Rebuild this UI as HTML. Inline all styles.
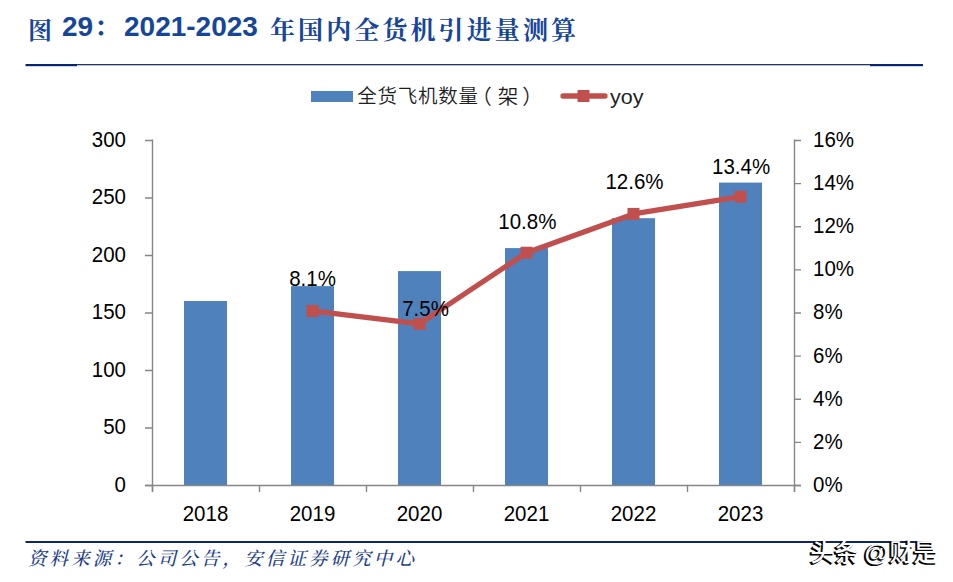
<!DOCTYPE html>
<html><head><meta charset="utf-8">
<style>
html,body{margin:0;padding:0;background:#fff;}
body{width:953px;height:582px;overflow:hidden;position:relative;}
svg{position:absolute;left:0;top:0;}
.t{font-family:"Liberation Sans","Noto Serif CJK SC",serif;font-weight:bold;fill:#16469A;font-size:28px;}
.cjk{font-family:"Liberation Serif","Noto Serif CJK SC",serif;font-weight:700;font-size:26px;}
.src{font-family:"Liberation Serif","Noto Serif CJK SC",serif;fill:#1E3F8A;font-size:18.5px;font-weight:500;font-style:italic;}
.leg{font-family:"Liberation Sans","Noto Sans CJK SC",sans-serif;font-size:20px;fill:#1f1f1f;}
.legc{font-family:"Liberation Sans","Noto Sans CJK SC",sans-serif;font-size:19.5px;letter-spacing:0.75px;font-weight:350;fill:#1f1f1f;}
.wm{font-family:"Liberation Sans","Noto Sans CJK SC",sans-serif;font-size:24px;font-weight:500;}
.at{font-size:24.5px;font-weight:400;}
</style></head>
<body>
<svg width="953" height="582" viewBox="0 0 953 582">
<g class="t">
<text x="28" y="39" class="cjk" style="font-size:24px">图</text>
<text x="62" y="35.8">29</text>
<text x="94" y="35.8" class="cjk">：</text>
<text x="124" y="35.8">2021-2023</text>
<text x="270" y="39" class="cjk" style="font-size:25px" textLength="306" lengthAdjust="spacing">年国内全货机引进量测算</text>
</g>
<rect x="26" y="64" width="896" height="1.3" fill="#1C3668"/>
<rect x="25.5" y="64" width="51.5" height="2.2" fill="#062575"/>
<rect x="870" y="64" width="53" height="2.2" fill="#062575"/>
<rect x="311" y="91" width="42" height="11" fill="#4F81BD"/>
<text class="legc" x="357.3" y="103.3">全货飞机数量</text>
<text class="legc" x="471.3" y="104.3" style="font-size:20.5px">（</text><text class="legc" x="497.8" y="104" style="font-size:20.5px">架</text><text class="legc" x="522.3" y="104.3" style="font-size:20.5px">）</text>
<path d="M563 96 H605" stroke="#C0504D" stroke-width="5.3" stroke-linecap="round"/>
<rect x="577.5" y="90" width="12" height="12" fill="#C0504D"/>
<text class="leg" x="610" y="103.6" fill="#000" textLength="33.5" lengthAdjust="spacingAndGlyphs">yoy</text>
<rect x="184.0" y="301.0" width="43" height="184.0" fill="#4F81BD"/>
<rect x="291.0" y="286.1" width="43" height="198.9" fill="#4F81BD"/>
<rect x="398.0" y="271.1" width="43" height="213.9" fill="#4F81BD"/>
<rect x="505.0" y="248.1" width="43" height="236.9" fill="#4F81BD"/>
<rect x="612.0" y="218.2" width="43" height="266.8" fill="#4F81BD"/>
<rect x="719.0" y="182.6" width="43" height="302.4" fill="#4F81BD"/>
<path d="M152.5 139.5 V492 M794.5 139.5 V492 M145 485.5 H801" stroke="#868686" stroke-width="1.4" fill="none"/>
<path d="M145 485.5 H152 M145 428.0 H152 M145 370.5 H152 M145 313.0 H152 M145 255.5 H152 M145 198.0 H152 M145 140.5 H152 M794 485.5 H801 M794 442.4 H801 M794 399.2 H801 M794 356.1 H801 M794 313.0 H801 M794 269.9 H801 M794 226.8 H801 M794 183.6 H801 M794 140.5 H801 M152.5 485 V492 M259.5 485 V492 M366.5 485 V492 M473.5 485 V492 M580.5 485 V492 M687.5 485 V492 M794.5 485 V492" stroke="#868686" stroke-width="1.4" fill="none"/>
<polyline points="312.5,310.9 419.5,323.9 526.5,252.7 633.5,213.9 740.5,196.7" stroke="#C0504D" stroke-width="5.3" fill="none" stroke-linejoin="round" stroke-linecap="round"/>
<rect x="306.50" y="304.94" width="12" height="12" fill="#C0504D"/>
<rect x="413.50" y="317.88" width="12" height="12" fill="#C0504D"/>
<rect x="520.50" y="246.72" width="12" height="12" fill="#C0504D"/>
<rect x="627.50" y="207.91" width="12" height="12" fill="#C0504D"/>
<rect x="734.50" y="190.66" width="12" height="12" fill="#C0504D"/>
<g font-family="Liberation Sans, sans-serif" font-size="20.5" fill="#000"><text transform="translate(126.0,491.9) scale(1,1.06)" text-anchor="end">0</text><text transform="translate(126.0,434.4) scale(1,1.06)" text-anchor="end">50</text><text transform="translate(126.0,376.9) scale(1,1.06)" text-anchor="end">100</text><text transform="translate(126.0,319.4) scale(1,1.06)" text-anchor="end">150</text><text transform="translate(126.0,261.9) scale(1,1.06)" text-anchor="end">200</text><text transform="translate(126.0,204.4) scale(1,1.06)" text-anchor="end">250</text><text transform="translate(126.0,146.9) scale(1,1.06)" text-anchor="end">300</text><text transform="translate(813.0,491.9) scale(1,1.06)" text-anchor="start">0%</text><text transform="translate(813.0,448.8) scale(1,1.06)" text-anchor="start">2%</text><text transform="translate(813.0,405.6) scale(1,1.06)" text-anchor="start">4%</text><text transform="translate(813.0,362.5) scale(1,1.06)" text-anchor="start">6%</text><text transform="translate(813.0,319.4) scale(1,1.06)" text-anchor="start">8%</text><text transform="translate(813.0,276.3) scale(1,1.06)" text-anchor="start">10%</text><text transform="translate(813.0,233.2) scale(1,1.06)" text-anchor="start">12%</text><text transform="translate(813.0,190.0) scale(1,1.06)" text-anchor="start">14%</text><text transform="translate(813.0,146.9) scale(1,1.06)" text-anchor="start">16%</text><text transform="translate(205.5,521.0) scale(1,1.06)" text-anchor="middle">2018</text><text transform="translate(312.5,521.0) scale(1,1.06)" text-anchor="middle">2019</text><text transform="translate(419.5,521.0) scale(1,1.06)" text-anchor="middle">2020</text><text transform="translate(526.5,521.0) scale(1,1.06)" text-anchor="middle">2021</text><text transform="translate(633.5,521.0) scale(1,1.06)" text-anchor="middle">2022</text><text transform="translate(740.5,521.0) scale(1,1.06)" text-anchor="middle">2023</text><text transform="translate(312.5,285.7) scale(1,1.06)" text-anchor="middle">8.1%</text><text transform="translate(425.5,315.7) scale(1,1.06)" text-anchor="middle">7.5%</text><text transform="translate(527.3,229.0) scale(1,1.06)" text-anchor="middle">10.8%</text><text transform="translate(634.5,189.4) scale(1,1.06)" text-anchor="middle">12.6%</text><text transform="translate(741.1,173.6) scale(1,1.06)" text-anchor="middle">13.4%</text></g>
<rect x="25.5" y="541" width="897" height="2" fill="#0E2566"/>
<text class="src" x="28" y="564.7" textLength="386" lengthAdjust="spacing">资料来源：公司公告，安信证券研究中心</text>
<g class="wm" fill="#000" stroke="#000" stroke-width="1.1" transform="translate(-1.6,1.6)"><text x="810.5" y="560.5">头条</text><text x="864" y="560.5" class="at">@</text><text x="889.5" y="560.5">财是</text></g>
<g class="wm" fill="#fff"><text x="810.5" y="560.5">头条</text><text x="864" y="560.5" class="at">@</text><text x="889.5" y="560.5">财是</text></g>
</svg>
</body></html>
